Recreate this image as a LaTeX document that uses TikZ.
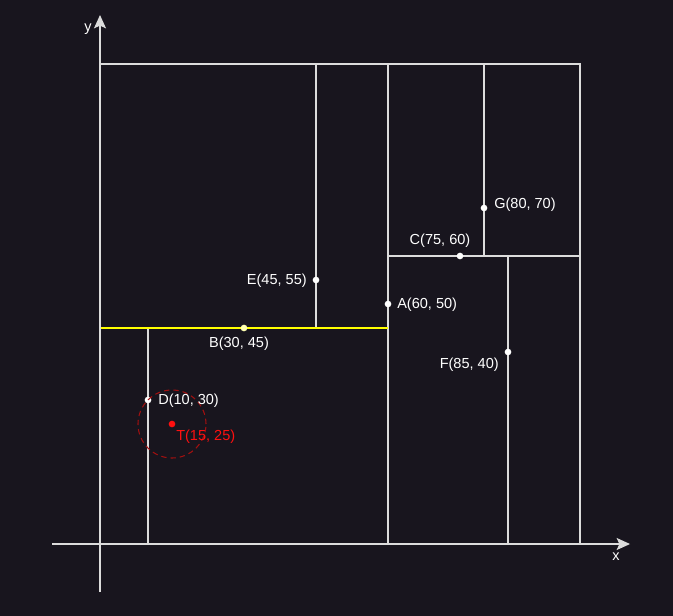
\documentclass[tikz,border=0pt]{standalone}
\usepackage{fontspec}
\setmainfont{Liberation Sans}
\usetikzlibrary{arrows.meta}
\definecolor{bg}{HTML}{18151E}
\definecolor{ln}{HTML}{DCDCDC}
\definecolor{yl}{HTML}{FFFF00}
\definecolor{rd}{HTML}{FF1010}
\definecolor{drd}{HTML}{A01010}
\begin{document}
\begin{tikzpicture}[x=0.75pt,y=-0.75pt,
  edge/.style={draw=ln,line width=0.85pt},
  axis/.style={draw=ln,line width=0.85pt,-{Stealth[length=10pt,width=9pt,inset=2pt]}},
  pt/.style={circle,fill=white,inner sep=0pt,minimum size=5pt},
  lbl/.style={text=white,font=\fontsize{10.9pt}{12pt}\selectfont,inner sep=0pt}]
\fill[bg] (0,0) rectangle (673,616);
\useasboundingbox (0,0) rectangle (673,616);
% corners
\coordinate (o) at (100,544);
\coordinate (tl) at (100,64);
\coordinate (tr) at (580,64);
\coordinate (br) at (580,544);
\coordinate (xs) at (52,544);
\coordinate (xe) at (630,544);
\coordinate (ys) at (100,592);
\coordinate (ye) at (100,15);
% split lines
\coordinate (a0) at (388,544); \coordinate (a1) at (388,64);
\coordinate (b0) at (100,328); \coordinate (b1) at (388,328);
\coordinate (e0) at (316,328); \coordinate (e1) at (316,64);
\coordinate (d0) at (148,544); \coordinate (d1) at (148,328);
\coordinate (c0) at (388,256); \coordinate (c1) at (580,256);
\coordinate (g0) at (484,256); \coordinate (g1) at (484,64);
\coordinate (f0) at (508,544); \coordinate (f1) at (508,256);
\draw[edge] (tl) -- (tr) -- (br);
\draw[edge] (a0) -- (a1);
\draw[edge] (e0) -- (e1);
\draw[edge] (d0) -- (d1);
\draw[edge] (c0) -- (c1);
\draw[edge] (g0) -- (g1);
\draw[edge] (f0) -- (f1);
\draw[draw=yl,line width=1pt] (b0) -- (b1);
\draw[axis] (xs) -- (xe);
\draw[axis] (ys) -- (ye);
\node[lbl,anchor=center] (xl) at (616,557) {x};
\node[lbl,anchor=center] (yl) at (88,29) {y};
% points
\node[pt] (A) at (388,304) {};
\node[pt,fill=yl!30!white] (B) at (244,328) {};
\node[pt] (C) at (460,256) {};
\node[pt] (D) at (148,400) {};
\node[pt] (E) at (316,280) {};
\node[pt] (F) at (508,352) {};
\node[pt] (G) at (484,208) {};
\node[circle,fill=rd,inner sep=0pt,minimum size=5pt] (T) at (172,424) {};
\draw[drd,dashed,line width=0.8pt,dash pattern=on 4pt off 3pt] (T) circle[radius=25.5pt];
\node[lbl,anchor=west] (Al) at (397,305) {A(60, 50)};
\node[lbl,anchor=center] (Bl) at (239,344) {B(30, 45)};
\node[lbl,anchor=center] (Cl) at (440,241) {C(75, 60)};
\node[lbl,anchor=west] (Dl) at (158,401) {D(10, 30)};
\node[lbl,anchor=east] (El) at (307,281) {E(45, 55)};
\node[lbl,anchor=east] (Fl) at (499,365) {F(85, 40)};
\node[lbl,anchor=west] (Gl) at (494,205) {G(80, 70)};
\node[lbl,anchor=west,text=rd] (Tl) at (176,437) {T(15, 25)};
\end{tikzpicture}
\end{document}
